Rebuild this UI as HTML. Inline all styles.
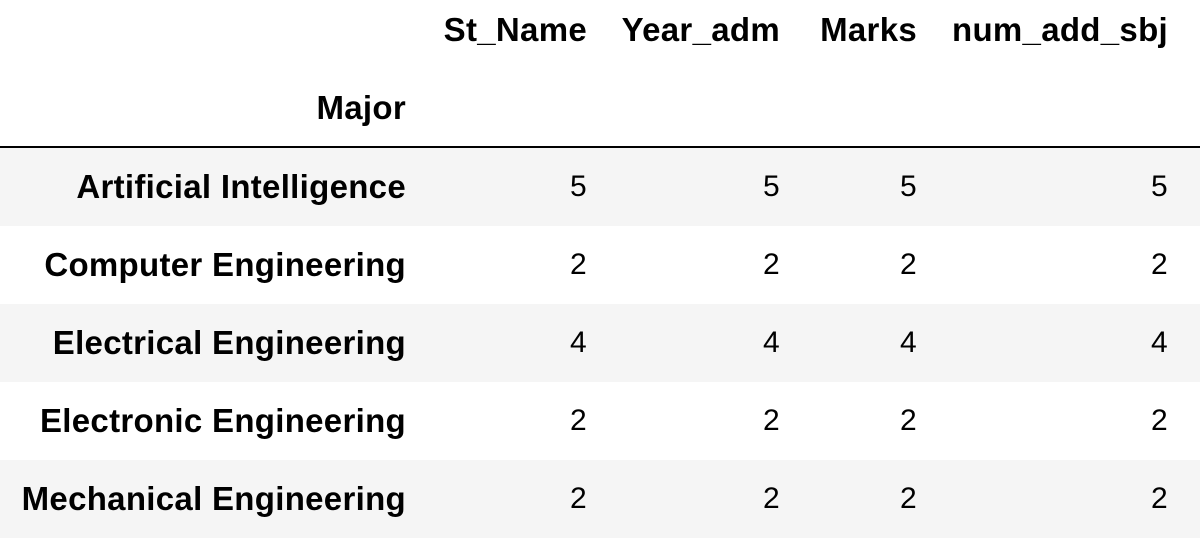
<!DOCTYPE html>
<html><head><meta charset="utf-8"><style>
html,body{margin:0;padding:0;background:#fff;}
body{width:1200px;height:557px;position:relative;overflow:hidden;font-family:"Liberation Sans",Arial,sans-serif;color:#000;}
.t{position:absolute;font-size:33px;line-height:38px;white-space:nowrap;letter-spacing:0.3px;}
.b{font-weight:bold;}
.r{text-align:right;}
.row{position:absolute;left:0;width:1200px;height:78px;}
.g{background:#f5f5f5;}
</style></head><body>
<div class="t b r" style="right:613px;top:11px;">St_Name</div>
<div class="t b r" style="right:420px;top:11px;">Year_adm</div>
<div class="t b r" style="right:283px;top:11px;">Marks</div>
<div class="t b r" style="right:32px;top:11px;">num_add_sbj</div>
<div class="t b r" style="right:794px;top:89px;">Major</div>
<div style="position:absolute;left:0;top:146px;width:1200px;height:2px;background:#000;"></div>
<div id="rows"></div>
<script>
const majors=["Artificial Intelligence","Computer Engineering","Electrical Engineering","Electronic Engineering","Mechanical Engineering"];
const stName=[5,2,4,2,2];
const yearAdm=[5,2,4,2,2];
const marks=[5,2,4,2,2];
const numAddSbj=[5,2,4,2,2];
const cols=[stName,yearAdm,marks,numAddSbj];
const colRight=[613,420,283,32];
const colNames=['st-name','year-adm','marks','num-add-sbj'];
const host=document.getElementById('rows');
majors.forEach((m,i)=>{
  const top=148+i*78;
  const row=document.createElement('div');
  row.className='row'+(i%2===0?' g':'');
  row.style.top=top+'px';
  
  
  host.appendChild(row);
  const lab=document.createElement('div');
  lab.className='t b r';
  lab.style.right='794px';lab.style.top=(top+20)+'px';
  lab.textContent=m;
  
  
  host.appendChild(lab);
  cols.forEach((c,j)=>{
    const d=document.createElement('div');
    d.className='t r';
    d.style.right=colRight[j]+'px';d.style.top=(top+20)+'px';
    d.textContent=c[i];
    
    
    d.style.fontSize='30px';
    host.appendChild(d);
  });
});
</script>
</body></html>
